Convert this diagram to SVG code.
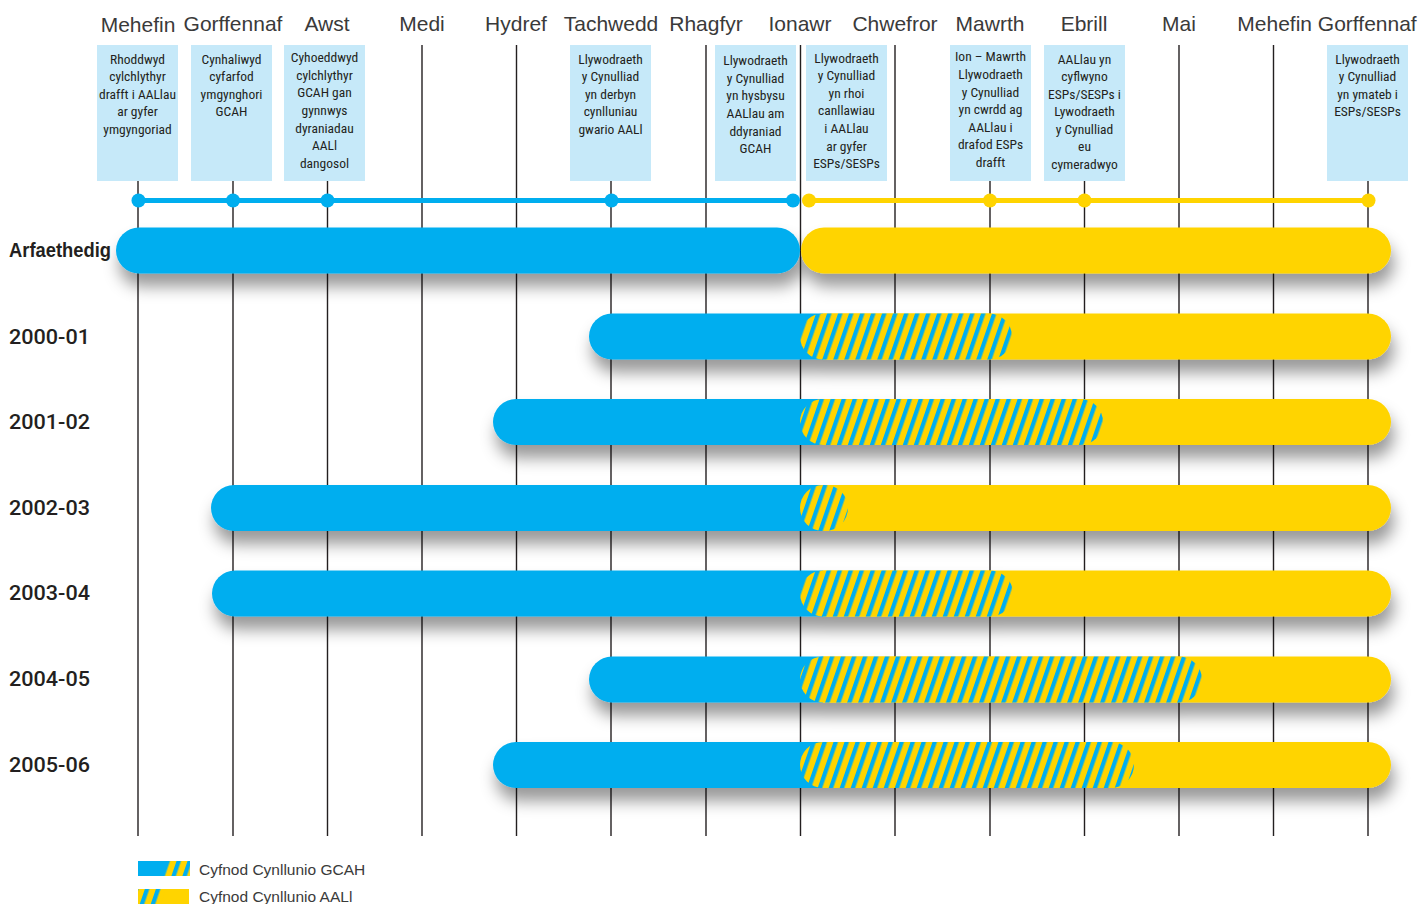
<svg xmlns="http://www.w3.org/2000/svg" width="1421" height="904" viewBox="0 0 1421 904">
<style>
.mon{font-family:"Liberation Sans",Arial,sans-serif;font-size:21px;fill:#3a3a3a;text-anchor:middle}
.box{fill:#c6e9f9}
.bt{font-family:"Liberation Sans Narrow","Roboto Condensed","Liberation Sans",sans-serif;font-size:13.5px;fill:#231f20;text-anchor:middle}
.grid{stroke:#231f20;stroke-width:1.4}
.row{font-family:Roboto,"Liberation Sans",Arial,sans-serif;font-weight:500;font-size:21px;fill:#231f20}
.blue{fill:#00aeef}
.yel{fill:#ffd400}
.hat{fill:url(#hatch)}
.leg{font-family:"Liberation Sans",Arial,sans-serif;font-size:15.5px;fill:#3a3a3a}
</style>
<defs>
<pattern id="hatch" patternUnits="userSpaceOnUse" width="11" height="10" patternTransform="skewX(-19)">
<rect width="11" height="10" fill="#ffd400"/>
<rect width="4.5" height="10" fill="#00aeef"/>
</pattern>
<filter id="sh" x="-10%" y="-40%" width="120%" height="220%">
<feDropShadow dx="3" dy="13" stdDeviation="8" flood-color="#000" flood-opacity="0.4"/>
</filter>
</defs>
<rect width="1421" height="904" fill="#ffffff"/>

<g id="months">
<text class="mon" x="138" y="32">Mehefin</text>
<text class="mon" x="233" y="31">Gorffennaf</text>
<text class="mon" x="327" y="31">Awst</text>
<text class="mon" x="422" y="31">Medi</text>
<text class="mon" x="516" y="31">Hydref</text>
<text class="mon" x="611" y="31">Tachwedd</text>
<text class="mon" x="706" y="31">Rhagfyr</text>
<text class="mon" x="800" y="31">Ionawr</text>
<text class="mon" x="895" y="31">Chwefror</text>
<text class="mon" x="990" y="31">Mawrth</text>
<text class="mon" x="1084" y="31">Ebrill</text>
<text class="mon" x="1179" y="31">Mai</text>
<text class="mon" x="1327" y="31">Mehefin Gorffennaf</text>
</g>

<g id="gridlines">
<line class="grid" x1="138" y1="181" x2="138" y2="836"/>
<line class="grid" x1="233" y1="181" x2="233" y2="836"/>
<line class="grid" x1="327.5" y1="181" x2="327.5" y2="836"/>
<line class="grid" x1="422" y1="45" x2="422" y2="836"/>
<line class="grid" x1="516.5" y1="45" x2="516.5" y2="836"/>
<line class="grid" x1="611" y1="181" x2="611" y2="836"/>
<line class="grid" x1="706" y1="45" x2="706" y2="836"/>
<line class="grid" x1="800.5" y1="45" x2="800.5" y2="836"/>
<line class="grid" x1="895" y1="45" x2="895" y2="836"/>
<line class="grid" x1="990" y1="181" x2="990" y2="836"/>
<line class="grid" x1="1084.5" y1="181" x2="1084.5" y2="836"/>
<line class="grid" x1="1179" y1="45" x2="1179" y2="836"/>
<line class="grid" x1="1273.5" y1="45" x2="1273.5" y2="836"/>
<line class="grid" x1="1368" y1="181" x2="1368" y2="836"/>
</g>

<g id="ev1"><rect class="box" x="97" y="45" width="81" height="136"/>
<text class="bt"><tspan x="137.5" y="64">Rhoddwyd</tspan><tspan x="137.5" y="81">cylchlythyr</tspan><tspan x="137.5" y="99">drafft i AALlau</tspan><tspan x="137.5" y="116">ar gyfer</tspan><tspan x="137.5" y="134">ymgyngoriad</tspan></text></g>
<g id="ev2"><rect class="box" x="191" y="45" width="81" height="136"/>
<text class="bt"><tspan x="231.5" y="64">Cynhaliwyd</tspan><tspan x="231.5" y="81">cyfarfod</tspan><tspan x="231.5" y="99">ymgynghori</tspan><tspan x="231.5" y="116">GCAH</tspan></text></g>
<g id="ev3"><rect class="box" x="284" y="45" width="81" height="136"/>
<text class="bt"><tspan x="324.5" y="62">Cyhoeddwyd</tspan><tspan x="324.5" y="80">cylchlythyr</tspan><tspan x="324.5" y="97">GCAH gan</tspan><tspan x="324.5" y="115">gynnwys</tspan><tspan x="324.5" y="133">dyraniadau</tspan><tspan x="324.5" y="150">AALl</tspan><tspan x="324.5" y="168">dangosol</tspan></text></g>
<g id="ev4"><rect class="box" x="570" y="45" width="81" height="136"/>
<text class="bt"><tspan x="610.5" y="64">Llywodraeth</tspan><tspan x="610.5" y="81">y Cynulliad</tspan><tspan x="610.5" y="99">yn derbyn</tspan><tspan x="610.5" y="116">cynlluniau</tspan><tspan x="610.5" y="134">gwario AALl</tspan></text></g>
<g id="ev5"><rect class="box" x="715" y="45" width="81" height="136"/>
<text class="bt"><tspan x="755.5" y="65">Llywodraeth</tspan><tspan x="755.5" y="83">y Cynulliad</tspan><tspan x="755.5" y="100">yn hysbysu</tspan><tspan x="755.5" y="118">AALlau am</tspan><tspan x="755.5" y="136">ddyraniad</tspan><tspan x="755.5" y="153">GCAH</tspan></text></g>
<g id="ev6"><rect class="box" x="806" y="45" width="81" height="136"/>
<text class="bt"><tspan x="846.5" y="63">Llywodraeth</tspan><tspan x="846.5" y="80">y Cynulliad</tspan><tspan x="846.5" y="98">yn rhoi</tspan><tspan x="846.5" y="115">canllawiau</tspan><tspan x="846.5" y="133">i AALlau</tspan><tspan x="846.5" y="151">ar gyfer</tspan><tspan x="846.5" y="168">ESPs/SESPs</tspan></text></g>
<g id="ev7"><rect class="box" x="950" y="45" width="81" height="136"/>
<text class="bt"><tspan x="990.5" y="61">Ion – Mawrth</tspan><tspan x="990.5" y="79">Llywodraeth</tspan><tspan x="990.5" y="97">y Cynulliad</tspan><tspan x="990.5" y="114">yn cwrdd ag</tspan><tspan x="990.5" y="132">AALlau i</tspan><tspan x="990.5" y="149">drafod ESPs</tspan><tspan x="990.5" y="167">drafft</tspan></text></g>
<g id="ev8"><rect class="box" x="1044" y="45" width="81" height="136"/>
<text class="bt"><tspan x="1084.5" y="64">AALlau yn</tspan><tspan x="1084.5" y="81">cyflwyno</tspan><tspan x="1084.5" y="99">ESPs/SESPs i</tspan><tspan x="1084.5" y="116">Lywodraeth</tspan><tspan x="1084.5" y="134">y Cynulliad</tspan><tspan x="1084.5" y="151">eu</tspan><tspan x="1084.5" y="169">cymeradwyo</tspan></text></g>
<g id="ev9"><rect class="box" x="1327" y="45" width="81" height="136"/>
<text class="bt"><tspan x="1367.5" y="64">Llywodraeth</tspan><tspan x="1367.5" y="81">y Cynulliad</tspan><tspan x="1367.5" y="99">yn ymateb i</tspan><tspan x="1367.5" y="116">ESPs/SESPs</tspan></text></g>

<g id="timeline">
<line x1="138" y1="200.5" x2="793" y2="200.5" stroke="#00aeef" stroke-width="5"/>
<line x1="808" y1="200.5" x2="1368" y2="200.5" stroke="#ffd400" stroke-width="5"/>
<g class="blue"><circle cx="138.5" cy="200.5" r="7"/><circle cx="233" cy="200.5" r="7"/><circle cx="327.5" cy="200.5" r="7"/><circle cx="611.5" cy="200.5" r="7"/><circle cx="793" cy="200.5" r="7"/></g>
<g class="yel"><circle cx="809" cy="200.5" r="7"/><circle cx="990" cy="200.5" r="7"/><circle cx="1084.5" cy="200.5" r="7"/><circle cx="1368.5" cy="200.5" r="7"/></g>
</g>

<g id="row-arfaethedig">
<text x="9" y="257" font-family="'Liberation Sans',Arial,sans-serif" font-weight="bold" font-size="19.5" fill="#231f20" textLength="102" lengthAdjust="spacingAndGlyphs">Arfaethedig</text>
<g filter="url(#sh)">
<rect class="blue" x="116" y="227.5" width="684" height="46" rx="23"/>
<rect class="yel" x="801" y="227.5" width="590" height="46" rx="23"/>
</g></g>

<g id="row-2000-01">
<text class="row" x="9" y="344" textLength="81" lengthAdjust="spacingAndGlyphs">2000-01</text>
<g filter="url(#sh)">
<path class="blue" d="M612,313.5 H823 V359.5 H612 A23,23 0 0 1 612,313.5 Z"/>
<path class="yel" d="M823,313.5 H1368 A23,23 0 0 1 1368,359.5 H823 Z"/>
<rect class="hat" x="800" y="313.5" width="212" height="46" rx="23"/>
</g></g>

<g id="row-2001-02">
<text class="row" x="9" y="429" textLength="81" lengthAdjust="spacingAndGlyphs">2001-02</text>
<g filter="url(#sh)">
<path class="blue" d="M516,399 H823 V445 H516 A23,23 0 0 1 516,399 Z"/>
<path class="yel" d="M823,399 H1368 A23,23 0 0 1 1368,445 H823 Z"/>
<rect class="hat" x="800" y="399" width="303" height="46" rx="23"/>
</g></g>

<g id="row-2002-03">
<text class="row" x="9" y="515" textLength="81" lengthAdjust="spacingAndGlyphs">2002-03</text>
<g filter="url(#sh)">
<path class="blue" d="M234,485 H823 V531 H234 A23,23 0 0 1 234,485 Z"/>
<path class="yel" d="M823,485 H1368 A23,23 0 0 1 1368,531 H823 Z"/>
<rect class="hat" x="800" y="485" width="48" height="46" rx="23"/>
</g></g>

<g id="row-2003-04">
<text class="row" x="9" y="600" textLength="81" lengthAdjust="spacingAndGlyphs">2003-04</text>
<g filter="url(#sh)">
<path class="blue" d="M235,570.5 H823 V616.5 H235 A23,23 0 0 1 235,570.5 Z"/>
<path class="yel" d="M823,570.5 H1368 A23,23 0 0 1 1368,616.5 H823 Z"/>
<rect class="hat" x="800" y="570.5" width="213" height="46" rx="23"/>
</g></g>

<g id="row-2004-05">
<text class="row" x="9" y="686" textLength="81" lengthAdjust="spacingAndGlyphs">2004-05</text>
<g filter="url(#sh)">
<path class="blue" d="M612,656.5 H823 V702.5 H612 A23,23 0 0 1 612,656.5 Z"/>
<path class="yel" d="M823,656.5 H1368 A23,23 0 0 1 1368,702.5 H823 Z"/>
<rect class="hat" x="800" y="656.5" width="402" height="46" rx="23"/>
</g></g>

<g id="row-2005-06">
<text class="row" x="9" y="772" textLength="81" lengthAdjust="spacingAndGlyphs">2005-06</text>
<g filter="url(#sh)">
<path class="blue" d="M516,742 H823 V788 H516 A23,23 0 0 1 516,742 Z"/>
<path class="yel" d="M823,742 H1368 A23,23 0 0 1 1368,788 H823 Z"/>
<rect class="hat" x="800" y="742" width="334" height="46" rx="23"/>
</g></g>

<g id="legend">
<rect class="hat" x="160" y="861" width="30" height="15"/>
<polygon class="blue" points="138,861 167,861 163,876 138,876"/>
<text class="leg" x="199" y="875">Cyfnod Cynllunio GCAH</text>
<rect class="hat" x="138" y="889" width="28" height="15"/>
<polygon class="yel" points="166,889 189,889 189,904 161,904"/>
<text class="leg" x="199" y="902">Cyfnod Cynllunio AALl</text>
</g>
</svg>
